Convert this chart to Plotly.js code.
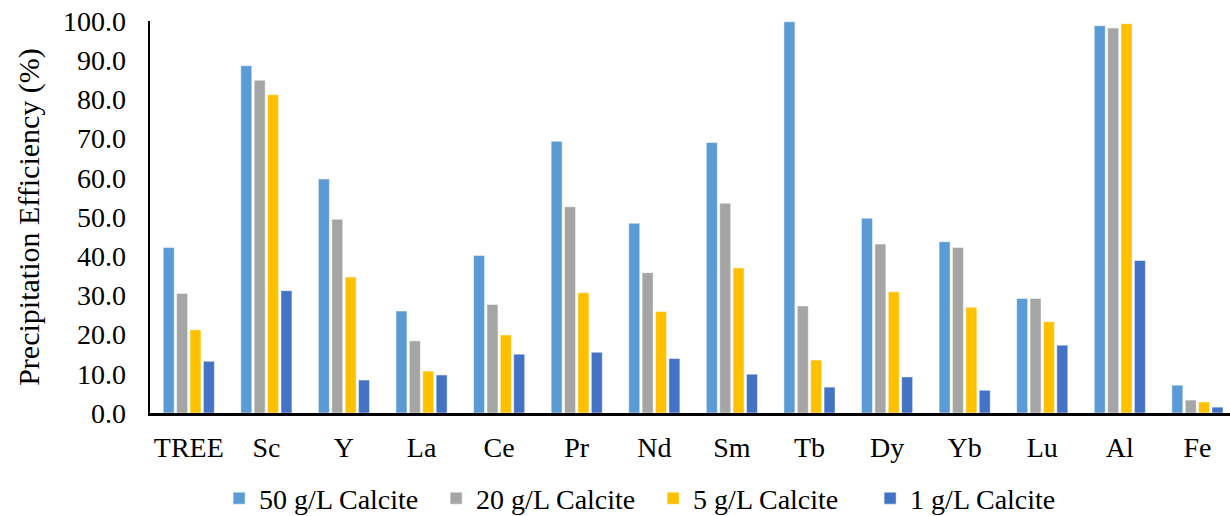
<!DOCTYPE html>
<html>
<head>
<meta charset="utf-8">
<script src="https://cdn.plot.ly/plotly-3.0.1.min.js"></script>
<style>html,body{margin:0;padding:0;background:#fff;}#chart{width:1230px;height:516px;}</style>
</head>
<body>
<div id="chart"></div>
<script>
const categories = ["TREE","Sc","Y","La","Ce","Pr","Nd","Sm","Tb","Dy","Yb","Lu","Al","Fe"];
const seriesNames = ["50 g/L Calcite","20 g/L Calcite","5 g/L Calcite","1 g/L Calcite"];
const calcite50 = [42.2, 88.6, 59.7, 26.0, 40.2, 69.3, 48.4, 69.0, 99.8, 49.7, 43.7, 29.2, 98.8, 7.1];
const calcite20 = [30.5, 84.9, 49.4, 18.4, 27.7, 52.6, 35.8, 53.5, 27.3, 43.1, 42.2, 29.2, 98.2, 3.3];
const calcite5  = [21.2, 81.2, 34.7, 10.7, 19.9, 30.7, 25.9, 37.0, 13.5, 30.9, 27.0, 23.3, 99.3, 2.8];
const calcite1  = [13.2, 31.2,  8.4,  9.7, 15.0, 15.5, 13.9,  9.9,  6.6,  9.2,  5.8, 17.3, 38.9, 1.5];
const yTicks = [0,10,20,30,40,50,60,70,80,90,100];

const colors = ["#5B9BD5","#A5A5A5","#FFC000","#4472C4"];
const allSeries = [calcite50, calcite20, calcite5, calcite1];
const font = "Liberation Serif";

const traces = allSeries.map((vals, i) => ({
  type: "bar",
  name: seriesNames[i],
  x: categories,
  y: vals,
  marker: {color: colors[i], line: {color: "rgba(255,255,255,0.6)", width: 0.8}},
  hoverinfo: "x+y+name"
}));

const layout = {
  width: 1230, height: 516,
  margin: {l: 150, r: 0, t: 21, b: 103, autoexpand: false},
  paper_bgcolor: "#fff", plot_bgcolor: "#fff",
  font: {family: font, size: 28, color: "#000"},
  barmode: "group",
  bargap: 0.31,
  bargroupgap: 0.18,
  showlegend: true,
  legend: {orientation: "h", x: 0.064, xanchor: "left", y: -0.218, yanchor: "middle",
           entrywidth: 172, entrywidthmode: "pixels",
           font: {family: font, size: 28, color: "#000"}, traceorder: "normal", itemwidth: 30},
  xaxis: {
    type: "category", range: [-0.5, 13.42],
    showline: true, linecolor: "#000", linewidth: 2.5,
    showgrid: false, zeroline: false,
    ticks: "outside", ticklen: 8, tickcolor: "rgba(0,0,0,0)",
    tickfont: {family: font, size: 28, color: "#000"}
  },
  yaxis: {
    range: [0, 100], tickvals: yTicks,
    ticktext: yTicks.map(v => v.toFixed(1)),
    showline: true, linecolor: "#000", linewidth: 2.5,
    showgrid: false, zeroline: false,
    ticks: "outside", ticklen: 16, tickcolor: "rgba(0,0,0,0)",
    tickfont: {family: font, size: 28, color: "#000"},
    title: {text: "Precipitation Efficiency (%)", font: {family: font, size: 30, color: "#000"}, standoff: 15}
  }
};

Plotly.newPlot("chart", traces, layout, {displayModeBar: false, staticPlot: true});
</script>
</body>
</html>
